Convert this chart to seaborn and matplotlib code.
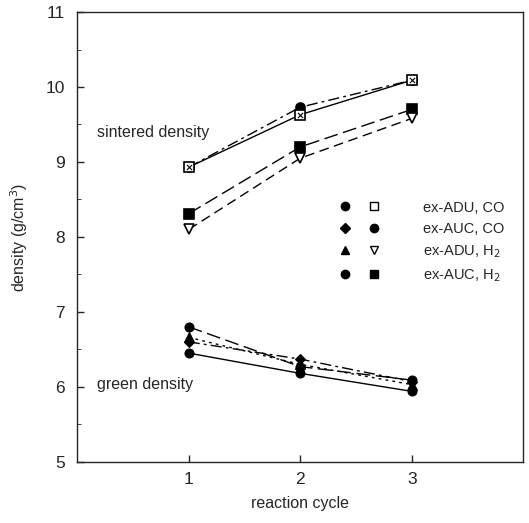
import matplotlib
matplotlib.use("Agg")
import matplotlib.pyplot as plt
from matplotlib.lines import Line2D
from matplotlib.legend_handler import HandlerTuple
from matplotlib.ticker import MultipleLocator
import numpy as np
import pandas as pd
import seaborn as sns

sns.set_style("ticks")
plt.rcParams['font.family'] = ['Liberation Sans', 'DejaVu Sans']

cycles = [1, 2, 3]
series = ["ex-ADU, CO", "ex-AUC, CO", "ex-ADU, H$_2$", "ex-AUC, H$_2$"]

# sintered density (g/cm3)
sint_adu_co = [8.93, 9.63, 10.09]
sint_auc_co = [8.93, 9.73, 10.09]
sint_adu_h2 = [8.10, 9.05, 9.58]
sint_auc_h2 = [8.31, 9.20, 9.70]

# green density (g/cm3)
green_adu_co = [6.45, 6.18, 5.94]
green_auc_co = [6.60, 6.37, 6.07]
green_adu_h2 = [6.66, 6.30, 6.03]
green_auc_h2 = [6.80, 6.27, 6.09]

sintered = [sint_adu_co, sint_auc_co, sint_adu_h2, sint_auc_h2]
green = [green_adu_co, green_auc_co, green_adu_h2, green_auc_h2]

line_styles = ["-", (0, (8, 3, 2, 3)), (0, (7, 4)), (0, (10, 4))]
green_styles = ["-", (0, (8, 3, 2, 3)), (0, (2, 3)), (0, (10, 4))]
green_markers = ["o", "D", "^", "o"]
sint_markers = ["s", "o", "v", "s"]
sint_fill = ["white", "black", "white", "black"]

fig = plt.figure(figsize=(5.29, 5.23), dpi=100)
ax = fig.add_axes([0.146, 0.117, 0.843, 0.860])

# draw order so the open ex-ADU, CO square ends up on top
for i in [1, 3, 2, 0]:
    df = pd.DataFrame({"cycle": cycles, "density": sintered[i]})
    sns.lineplot(data=df, x="cycle", y="density", ax=ax, color="black",
                 linewidth=1.0, linestyle=line_styles[i], marker=sint_markers[i],
                 markersize=6.5, markerfacecolor=sint_fill[i],
                 markeredgecolor="black", markeredgewidth=1.2)
    if i == 0:
        sns.scatterplot(data=df, x="cycle", y="density", ax=ax, marker="x",
                        color="black", s=14, linewidth=0.8, zorder=5)
    dg = pd.DataFrame({"cycle": cycles, "density": green[i]})
    sns.lineplot(data=dg, x="cycle", y="density", ax=ax, color="black",
                 linewidth=1.0, linestyle=green_styles[i], marker=green_markers[i],
                 markersize=6.5 if green_markers[i] != "D" else 5.5,
                 markerfacecolor="black", markeredgecolor="black")

ax.set_xlim(0, 4)
ax.set_ylim(5, 11)
ax.set_xticks([1, 2, 3])
ax.yaxis.set_major_locator(MultipleLocator(1))
ax.yaxis.set_minor_locator(MultipleLocator(0.5))
ax.tick_params(direction="in", labelsize=12.5, width=1, length=5)
ax.tick_params(axis="y", pad=9)
ax.tick_params(axis="x", pad=7)
ax.tick_params(which="minor", direction="in", length=3)
for s in ax.spines.values():
    s.set_linewidth(1.0)
    s.set_visible(True)

ax.set_xlabel("reaction cycle", fontsize=11.5, labelpad=7)
ax.set_ylabel("density (g/cm$^3$)", fontsize=11.5, labelpad=11)

ax.text(0.18, 9.33, "sintered density", fontsize=11.5)
ax.text(0.18, 5.97, "green density", fontsize=11.5)

handles = []
for i in range(4):
    g = Line2D([], [], linestyle="none", marker=green_markers[i], color="black",
               markersize=6 if green_markers[i] != "D" else 5)
    s = Line2D([], [], linestyle="none", marker=sint_markers[i], color="black",
               markerfacecolor=sint_fill[i], markersize=6)
    handles.append((g, s))
ax.legend(handles, series, handler_map={tuple: HandlerTuple(ndivide=None, pad=0.9)},
          loc="upper left", bbox_to_anchor=(0.554, 0.61), frameon=False,
          handlelength=3.0, handletextpad=2.9, labelspacing=0.5, fontsize=10.5)

fig.savefig("out.png", dpi=100)
